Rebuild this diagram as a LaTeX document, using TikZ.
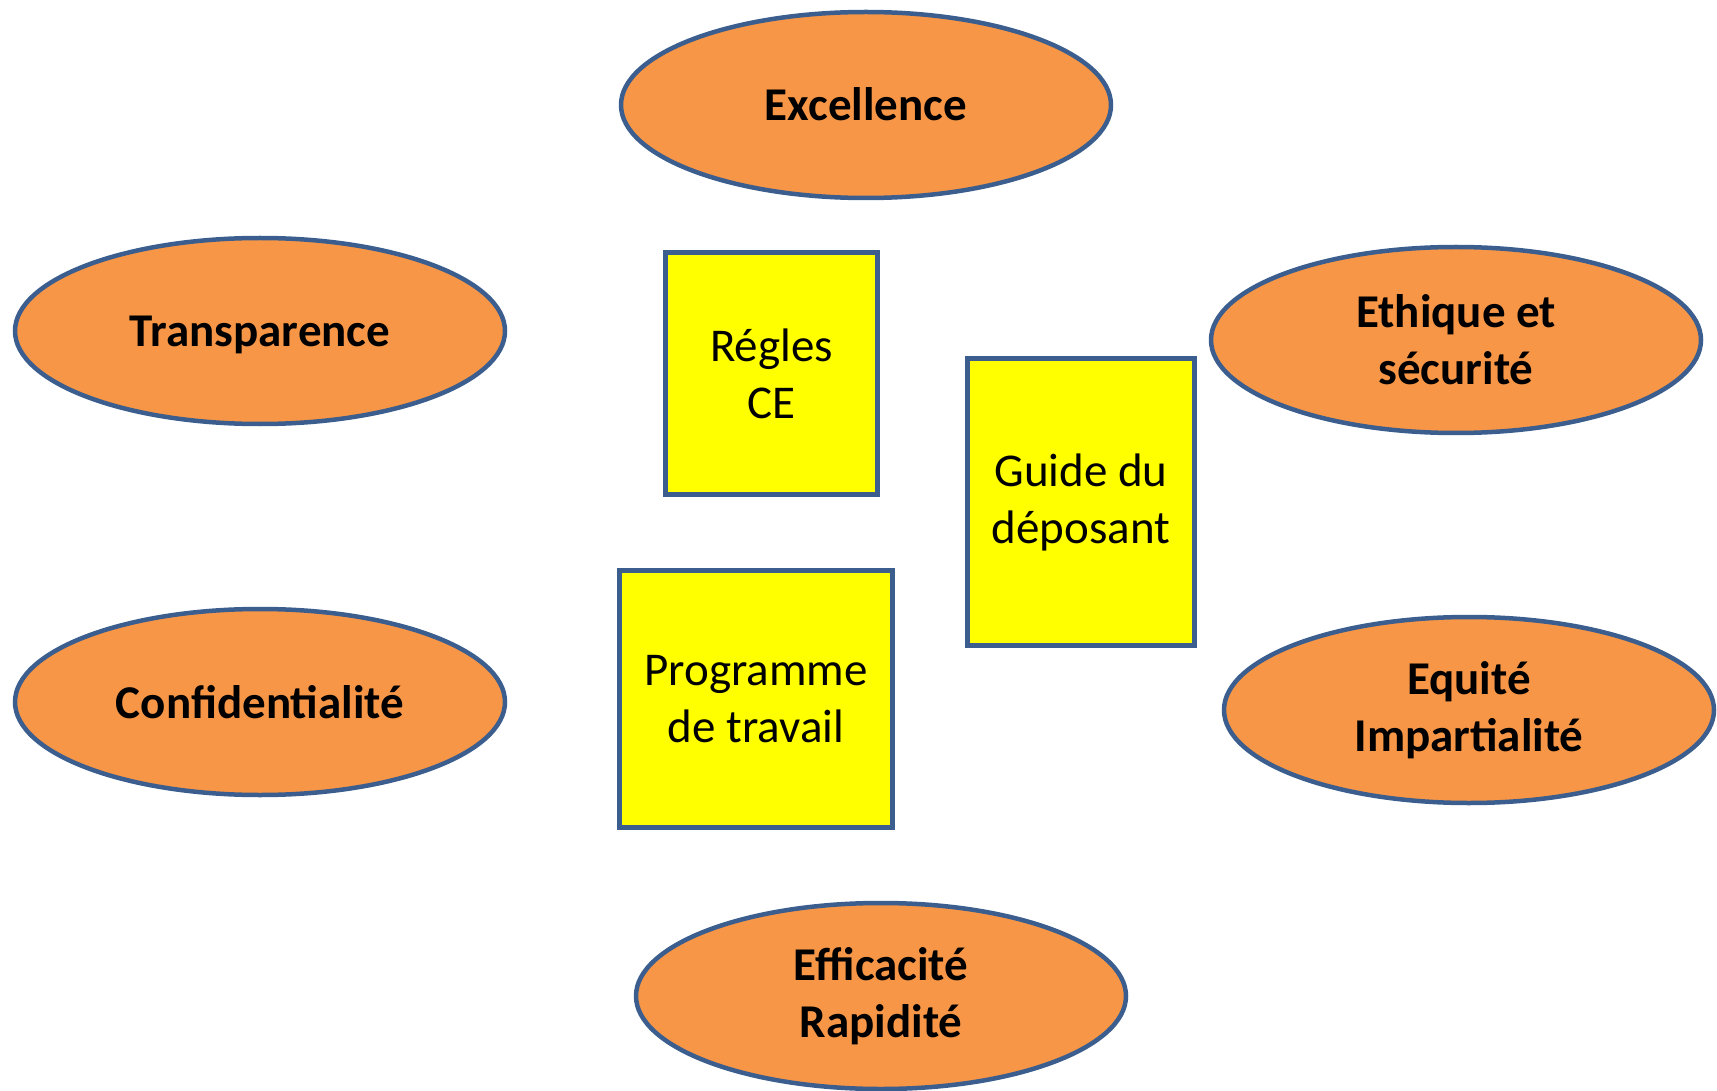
\documentclass[tikz,border=0pt]{standalone}
\usepackage{fontspec}
\setmainfont{Carlito}
\usetikzlibrary{shapes.geometric}
\definecolor{valueorange}{HTML}{F79646}
\definecolor{outlineblue}{HTML}{3B5E8E}
\definecolor{docyellow}{HTML}{FFFF00}
\begin{document}
\begin{tikzpicture}[x=1pt,y=-1pt,
  value/.style={ellipse, draw=outlineblue, line width=4.5pt, fill=valueorange,
    minimum width=490pt, minimum height=186pt, inner sep=0pt, align=center,
    font=\fontsize{47}{57}\selectfont\bfseries},
  oneline/.style={text height=32pt, text depth=0pt},
  doc/.style={rectangle, draw=outlineblue, line width=5pt, fill=docyellow,
    inner sep=0pt, align=center, font=\fontsize{47}{57}\selectfont}]
\useasboundingbox (0,0) rectangle (1717,1091);

% values around the documents
\node[value, oneline] (excellence) at (866,105) {Excellence};
\node[value, oneline] (transparence) at (260,331) {Transparence};
\node[value] (ethique) at (1456,340) {Ethique et\\sécurité};
\node[value, oneline] (confidentialite) at (260,702) {Confidentialité};
\node[value] (equite) at (1469,710) {Equité\\Impartialité};
\node[value] (efficacite) at (881,996) {Efficacité\\Rapidité};

% reference documents in the centre
\node[doc, minimum width=212pt, minimum height=242pt] (regles) at (771.5,373.5) {Régles\\CE};
\node[doc, minimum width=227pt, minimum height=287pt] (guide) at (1081,502) {Guide du\\déposant};
\node[doc, minimum width=273pt, minimum height=257pt] (programme) at (756,699) {Programme\\de travail};
\end{tikzpicture}
\end{document}
